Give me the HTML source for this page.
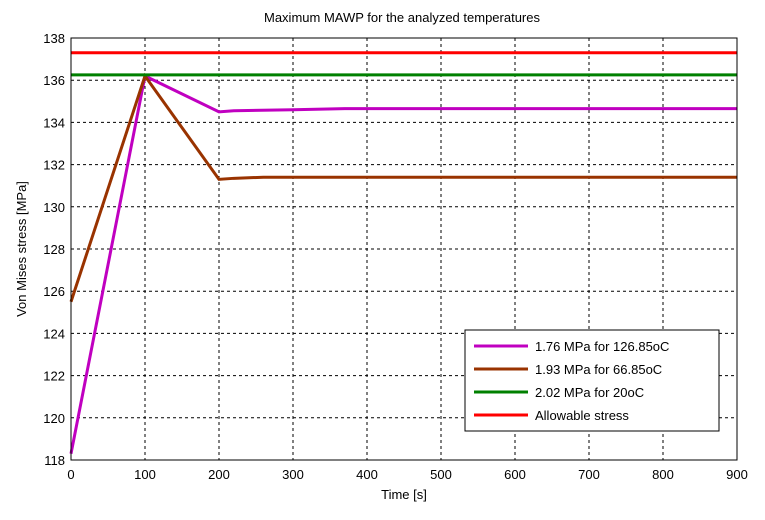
<!DOCTYPE html>
<html><head><meta charset="utf-8">
<style>
body{margin:0;background:#fff;font-family:"Liberation Sans",sans-serif}
svg text{font-family:"Liberation Sans",sans-serif;font-size:13px;fill:#000}
</style></head>
<body>
<svg width="765" height="515">
<rect x="0" y="0" width="765" height="515" fill="#fff"/>
<g id="grid"></g>
<g id="series"></g>
<rect x="71" y="38" width="666" height="422" fill="none" stroke="#000" stroke-width="1"/>
<g id="ticks"></g>
<text x="402" y="22" text-anchor="middle">Maximum MAWP for the analyzed temperatures</text>
<text x="404" y="499" text-anchor="middle">Time [s]</text>
<text transform="translate(26,249) rotate(-90)" text-anchor="middle">Von Mises stress [MPa]</text>
<g>
<rect x="465" y="330" width="254" height="101" fill="#fff" stroke="#000"/>
<g id="legend-items"></g>
</g>
</svg>
<script>
const xTicks=[0,100,200,300,400,500,600,700,800,900];
const yTicks=[118,120,122,124,126,128,130,132,134,136,138];
const seriesNames=["1.76 MPa for 126.85oC","1.93 MPa for 66.85oC","2.02 MPa for 20oC","Allowable stress"];
const seriesColors=["#c000c0","#993300","#008000","#ff0000"];
const purpleX=[0,100,200,220,300,370,900];
const purpleY=[118.3,136.2,134.5,134.55,134.6,134.65,134.65];
const brownX=[0,100,200,220,260,900];
const brownY=[125.5,136.2,131.3,131.35,131.4,131.4];
const greenX=[0,900];
const greenY=[136.25,136.25];
const redX=[0,900];
const redY=[137.3,137.3];
const NS="http://www.w3.org/2000/svg";
const X=v=>71+v*666/900;
const Y=v=>460-(v-118)*422/20;
function mk(t,a,p){const e=document.createElementNS(NS,t);for(const k in a)e.setAttribute(k,a[k]);p.appendChild(e);return e;}
const grid=document.getElementById('grid'),ticks=document.getElementById('ticks');
xTicks.forEach(v=>{
 const x=X(v);
 if(v>0&&v<900){const l=mk('line',{x1:x,x2:x,y1:38,y2:460,stroke:'#000','stroke-dasharray':'3,3'},grid);
 }
 const t=mk('text',{x:x,y:479,'text-anchor':'middle'},ticks);t.textContent=v;
 
});
yTicks.forEach(v=>{
 const y=Y(v);
 if(v>118&&v<138){const l=mk('line',{x1:71,x2:737,y1:y,y2:y,stroke:'#000','stroke-dasharray':'3,3'},grid);
 }
 const t=mk('text',{x:65,y:y+5,'text-anchor':'end'},ticks);t.textContent=v;
 
});
const sers=[[purpleX,purpleY],[brownX,brownY],[greenX,greenY],[redX,redY]];
const names=['series-126c','series-67c','series-20c','series-allowable'];
const sg=document.getElementById('series');
sers.forEach((s,i)=>{
 const pts=s[0].map((x,j)=>X(x)+','+Y(s[1][j])).join(' ');
 const p=mk('polyline',{points:pts,fill:'none',stroke:seriesColors[i],'stroke-width':3},sg);
 
});
const lg=document.getElementById('legend-items');
seriesNames.forEach((n,i)=>{
 const y=346+i*23;
 const l=mk('line',{x1:474,x2:528,y1:y,y2:y,stroke:seriesColors[i],'stroke-width':3},lg);
 
 const t=mk('text',{x:535,y:y+5},lg);t.textContent=n;
 
});
</script>
</body></html>
